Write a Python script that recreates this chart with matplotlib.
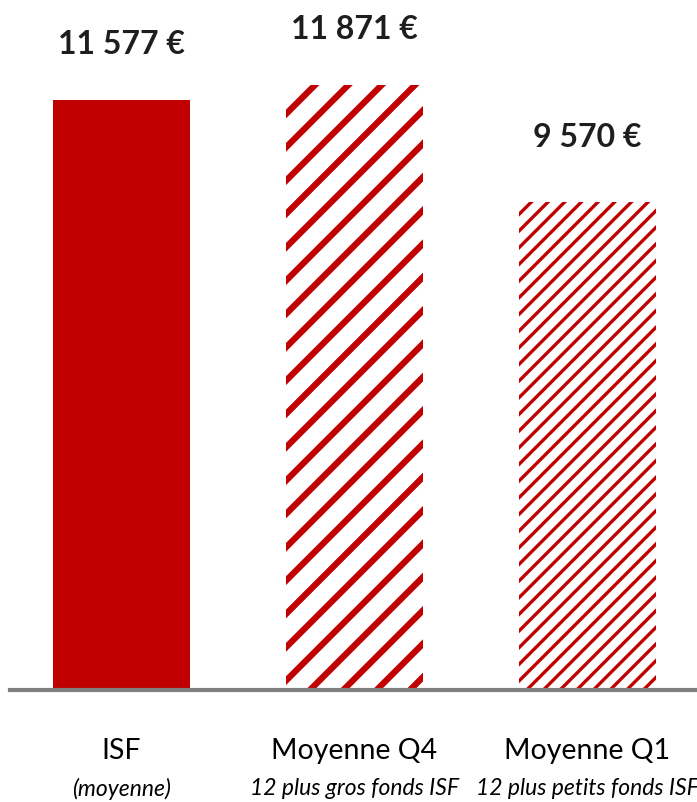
import matplotlib.pyplot as plt

categories = ["ISF", "Moyenne Q4", "Moyenne Q1"]
subtitles = ["(moyenne)", "12 plus gros fonds ISF", "12 plus petits fonds ISF"]
values = [11577, 11871, 9570]
labels = ["11 577 €", "11 871 €", "9 570 €"]

red = "#C00000"
plt.rcParams['font.family'] = ['Lato', 'DejaVu Sans']

fig = plt.figure(figsize=(6.97, 8.02), dpi=100)
ax = fig.add_axes([10 / 697, 112 / 802, 687 / 697, 690 / 802])

x = range(len(values))
width = 0.588

# plain bar
ax.bar(0, values[0], width=width, color=red, linewidth=0)

# hatched bars, stripe width differs per bar
plt.rcParams['hatch.linewidth'] = 4.5
ax.bar(1, values[1], width=width, color="white", edgecolor=red, hatch="/", linewidth=0)
plt.rcParams['hatch.linewidth'] = 2.4
ax.bar(2, values[2], width=width, color="white", edgecolor=red, hatch="//", linewidth=0)

# value labels were placed by hand in the original, offsets differ a bit
label_offsets = [40, 40, 47]
for i, v in enumerate(values):
    ax.annotate(labels[i], (i, v), xytext=(0, label_offsets[i]), textcoords="offset points",
                ha="center", va="center", fontsize=23, fontweight="bold", color="#1e1e1e")

ax.set_xlim(-0.4785, 2.47)
ax.set_ylim(0, 13540)
ax.axhline(0, color="#808080", linewidth=3, clip_on=False)

for s in ax.spines.values():
    s.set_visible(False)
ax.set_xticks([])
ax.set_yticks([])

for i in x:
    ax.annotate(categories[i], (i, 0), xytext=(0, -44), textcoords="offset points",
                ha="center", va="center", fontsize=20.5, annotation_clip=False)
    ax.annotate(subtitles[i], (i, 0), xytext=(0, -71), textcoords="offset points",
                ha="center", va="center", fontsize=16.5, style="italic", annotation_clip=False)

fig.savefig("out.png", dpi=100)
